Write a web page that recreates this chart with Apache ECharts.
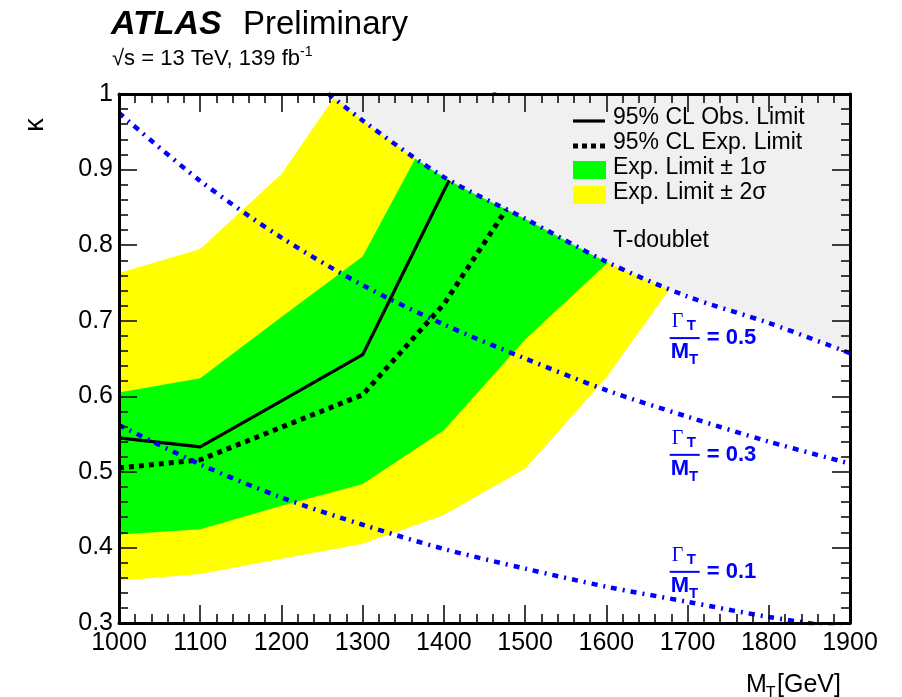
<!DOCTYPE html>
<html>
<head>
<meta charset="utf-8">
<script src="https://cdn.jsdelivr.net/npm/echarts@6/dist/echarts.min.js"></script>
<style>html,body{margin:0;padding:0;background:#fff}#c{width:902px;height:697px}</style>
</head>
<body>
<div id="c"></div>
<script>
// ---------------- data ----------------
const xTicks = [1000, 1100, 1200, 1300, 1400, 1500, 1600, 1700, 1800, 1900];
const yTicks = [0.3, 0.4, 0.5, 0.6, 0.7, 0.8, 0.9, 1.0];

// observed / expected 95% CL limits on kappa vs M_T
const obsMass = [1000, 1100, 1200, 1300, 1400, 1500];
const obsKappa = [0.545, 0.533, 0.594, 0.655, 0.872, 1.08];
const expMass = [1000, 1100, 1200, 1300, 1400, 1500];
const expKappa = [0.505, 0.516, 0.559, 0.602, 0.722, 0.885];

// +-1 sigma band edges
const s1UpMass = [1000, 1100, 1200, 1300, 1400];
const s1UpKappa = [0.605, 0.624, 0.705, 0.785, 0.985];
const s1LoMass = [1000, 1100, 1200, 1300, 1400, 1500, 1600, 1700];
const s1LoKappa = [0.417, 0.424, 0.455, 0.484, 0.555, 0.675, 0.775, 0.87];

// +-2 sigma band edges
const s2UpMass = [1000, 1100, 1200, 1300];
const s2UpKappa = [0.763, 0.795, 0.894, 1.05];
const s2LoMass = [1000, 1100, 1200, 1300, 1400, 1500, 1600, 1700];
const s2LoKappa = [0.356, 0.365, 0.385, 0.405, 0.443, 0.504, 0.625, 0.775];

// Gamma_T / M_T iso-lines
const w05Mass = [1200, 1300, 1400, 1500, 1600, 1700, 1800, 1900];
const w05Kappa = [1.05, 0.965, 0.89, 0.835, 0.778, 0.732, 0.697, 0.657];
const w03Mass = [1000, 1100, 1200, 1300, 1400, 1500, 1600, 1700, 1800, 1900];
const w03Kappa = [0.975, 0.885, 0.81, 0.747, 0.695, 0.65, 0.608, 0.573, 0.54, 0.511];
const w01Mass = [1000, 1100, 1200, 1300, 1400, 1500, 1600, 1700, 1800, 1900];
const w01Kappa = [0.562, 0.51, 0.466, 0.43, 0.398, 0.372, 0.348, 0.328, 0.308, 0.292];

const widthLabels = ['0.5', '0.3', '0.1'];
const widthLabelMass = [1678, 1678, 1678];
const widthLabelKappa = [0.677, 0.5225, 0.3677];

const legendLabels = ['95% CL Obs. Limit', '95% CL Exp. Limit', 'Exp. Limit \u00b1 1\u03c3', 'Exp. Limit \u00b1 2\u03c3'];
// ----------------------------------------------------------------

const FONT = '"Liberation Sans", Arial, Helvetica, sans-serif';
const SERIF = '"Liberation Serif", "Times New Roman", serif';
const BLUE = '#0000ff';
const GREEN = '#00ff00';
const YELLOW = '#ffff00';
const GRAY = '#f0f0f0';

function pairs(ms, ks) { return ms.map((m, i) => [m, ks[i]]); }

function bandSeries(name, upM, upK, loM, loK, color, z) {
  const ring = pairs(upM, upK).concat(pairs(loM, loK).reverse());
  return {
    type: 'custom', name: name, z: z, clip: true, silent: true,
    coordinateSystem: 'cartesian2d', xAxisIndex: 0, yAxisIndex: 0,
    data: [ring[0]],
    renderItem: function (params, api) {
      const pts = ring.map(p => api.coord(p));
      return { type: 'polygon', shape: { points: pts }, style: { fill: color, stroke: null } };
    }
  };
}

const dashDot = [6, 6, 2, 6];

function axisCommon(extra) {
  return Object.assign({
    type: 'value', z: 10,
    axisLine: { show: true, onZero: false, lineStyle: { color: '#000', width: 3 } },
    axisTick: { show: true, inside: true, length: 18, lineStyle: { color: '#000', width: 1.5 } },
    minorTick: { show: true, splitNumber: 5, length: 9, lineStyle: { color: '#000', width: 1.5 } },
    splitLine: { show: false },
    minorSplitLine: { show: false }
  }, extra);
}

const chart = echarts.init(document.getElementById('c'), null, { renderer: 'canvas' });

const option = {
  animation: false,
  backgroundColor: '#fff',
  grid: { left: 119, right: 52, top: 94, bottom: 74, show: false },
  xAxis: [
    axisCommon({
      min: xTicks[0], max: xTicks[xTicks.length - 1], interval: 100, position: 'bottom',
      axisLabel: { show: true, color: '#000', fontSize: 25, fontFamily: FONT, margin: 8, formatter: v => String(Math.round(v)) }
    }),
    axisCommon({
      min: xTicks[0], max: xTicks[xTicks.length - 1], interval: 100, position: 'top',
      axisLabel: { show: false }
    })
  ],
  yAxis: [
    axisCommon({
      min: yTicks[0], max: yTicks[yTicks.length - 1], interval: 0.1, position: 'left',
      axisLabel: {
        show: true, color: '#000', fontSize: 25, fontFamily: FONT, margin: 6,
        formatter: v => (Math.abs(v - 1) < 1e-6 ? '1' : v.toFixed(1))
      }
    }),
    axisCommon({
      min: yTicks[0], max: yTicks[yTicks.length - 1], interval: 0.1, position: 'right',
      axisLabel: { show: false }
    })
  ],
  series: [
    bandSeries('Exp. Limit \u00b1 2\u03c3', s2UpMass, s2UpKappa, s2LoMass, s2LoKappa, YELLOW, 1),
    bandSeries('Exp. Limit \u00b1 1\u03c3', s1UpMass, s1UpKappa, s1LoMass, s1LoKappa, GREEN, 2),
    {
      type: 'line', name: '95% CL Exp. Limit', z: 3, data: pairs(expMass, expKappa),
      showSymbol: false, symbol: 'none', clip: true, silent: true,
      lineStyle: { color: '#000', width: 5, type: [5, 5] }
    },
    {
      type: 'line', name: '95% CL Obs. Limit', z: 3, data: pairs(obsMass, obsKappa),
      showSymbol: false, symbol: 'none', clip: true, silent: true,
      lineStyle: { color: '#000', width: 3.2 }
    },
    {
      type: 'line', name: 'T-doublet', z: 4, data: pairs(w05Mass, w05Kappa),
      showSymbol: false, symbol: 'none', clip: true, silent: true, smooth: 0.3,
      lineStyle: { width: 0, opacity: 0 },
      areaStyle: { color: GRAY, opacity: 1, origin: 'end' }
    },
    {
      type: 'line', name: 'w05', z: 5, data: pairs(w05Mass, w05Kappa),
      showSymbol: false, symbol: 'none', clip: true, silent: true, smooth: 0.3,
      lineStyle: { color: BLUE, width: 4.5, type: dashDot }
    },
    {
      type: 'line', name: 'w03', z: 5, data: pairs(w03Mass, w03Kappa),
      showSymbol: false, symbol: 'none', clip: true, silent: true, smooth: 0.3,
      lineStyle: { color: BLUE, width: 4.5, type: dashDot }
    },
    {
      type: 'line', name: 'w01', z: 5, data: pairs(w01Mass, w01Kappa),
      showSymbol: false, symbol: 'none', clip: true, silent: true, smooth: 0.3,
      lineStyle: { color: BLUE, width: 4.5, type: dashDot }
    }
  ]
};
chart.setOption(option);

// ---------------- annotations ----------------
const mctx = document.createElement('canvas').getContext('2d');
function tw(text, size, weight, family) {
  mctx.font = (weight || 'normal') + ' ' + size + 'px ' + (family || FONT);
  return mctx.measureText(text).width;
}
function txt(text, x, y, size, opts) {
  opts = opts || {};
  return {
    type: 'text', z: 100, silent: true, x: x, y: y, rotation: opts.rotation || 0,
    style: {
      text: text, fill: opts.color || '#000', fontSize: size,
      fontFamily: opts.family || FONT, fontWeight: opts.weight || 'normal',
      fontStyle: opts.style || 'normal',
      textAlign: opts.align || 'left', textVerticalAlign: opts.valign || 'middle'
    }
  };
}

const g = [];
// header
g.push(txt('ATLAS', 111, 25, 34, { weight: 'bold', style: 'italic' }));
g.push(txt('Preliminary', 243, 25, 33));
const lumi = '\u221as = 13 TeV, 139 fb';
g.push(txt(lumi, 112, 59, 22));
g.push(txt('-1', 112 + tw(lumi, 22), 52, 14));

// axis titles
g.push(txt('\u03ba', 36, 125, 27, { rotation: Math.PI / 2, align: 'center' }));
g.push(txt('M', 746, 685, 25));
g.push(txt('T', 746 + tw('M', 25) - 1, 694, 16));
g.push(txt('[GeV]', 777, 685, 25));

// legend
const lx0 = 573, lx1 = 605, ltx = 613, rows = [118, 143, 168, 193];
g.push({ type: 'line', z: 100, silent: true, shape: { x1: lx0, y1: rows[0] + 3, x2: lx1, y2: rows[0] + 3 }, style: { stroke: '#000', lineWidth: 3.2 } });
g.push({ type: 'line', z: 100, silent: true, shape: { x1: lx0, y1: rows[1] + 3, x2: lx1 + 2, y2: rows[1] + 3 }, style: { stroke: '#000', lineWidth: 5, lineDash: [5, 4] } });
g.push({ type: 'rect', z: 100, silent: true, shape: { x: lx0, y: rows[2] - 7, width: 33, height: 18 }, style: { fill: GREEN } });
g.push({ type: 'rect', z: 100, silent: true, shape: { x: lx0, y: rows[3] - 7, width: 33, height: 18 }, style: { fill: YELLOW } });
legendLabels.forEach((l, i) => g.push(txt(l, ltx, rows[i], 23)));
g.push(txt('T-doublet', ltx, 241, 23));

// Gamma_T / M_T labels
widthLabels.forEach((lab, i) => {
  const p = chart.convertToPixel({ gridIndex: 0 }, [widthLabelMass[i], widthLabelKappa[i]]);
  const x0 = p[0], yb = p[1];
  g.push({ type: 'line', z: 100, silent: true, shape: { x1: x0, y1: yb, x2: x0 + 30, y2: yb }, style: { stroke: BLUE, lineWidth: 2 } });
  g.push(txt('\u0393', x0 + 2, yb - 16, 20, { color: BLUE, family: SERIF }));
  g.push(txt('T', x0 + 17, yb - 12, 15, { color: BLUE, weight: 'bold' }));
  g.push(txt('M', x0 + 1, yb + 14, 22, { color: BLUE, weight: 'bold' }));
  g.push(txt('T', x0 + 1 + tw('M', 22, 'bold'), yb + 22, 15, { color: BLUE, weight: 'bold' }));
  g.push(txt('= ' + lab, x0 + 37, yb, 22, { color: BLUE, weight: 'bold' }));
});

chart.setOption({ graphic: { elements: g } });
</script>
</body>
</html>
